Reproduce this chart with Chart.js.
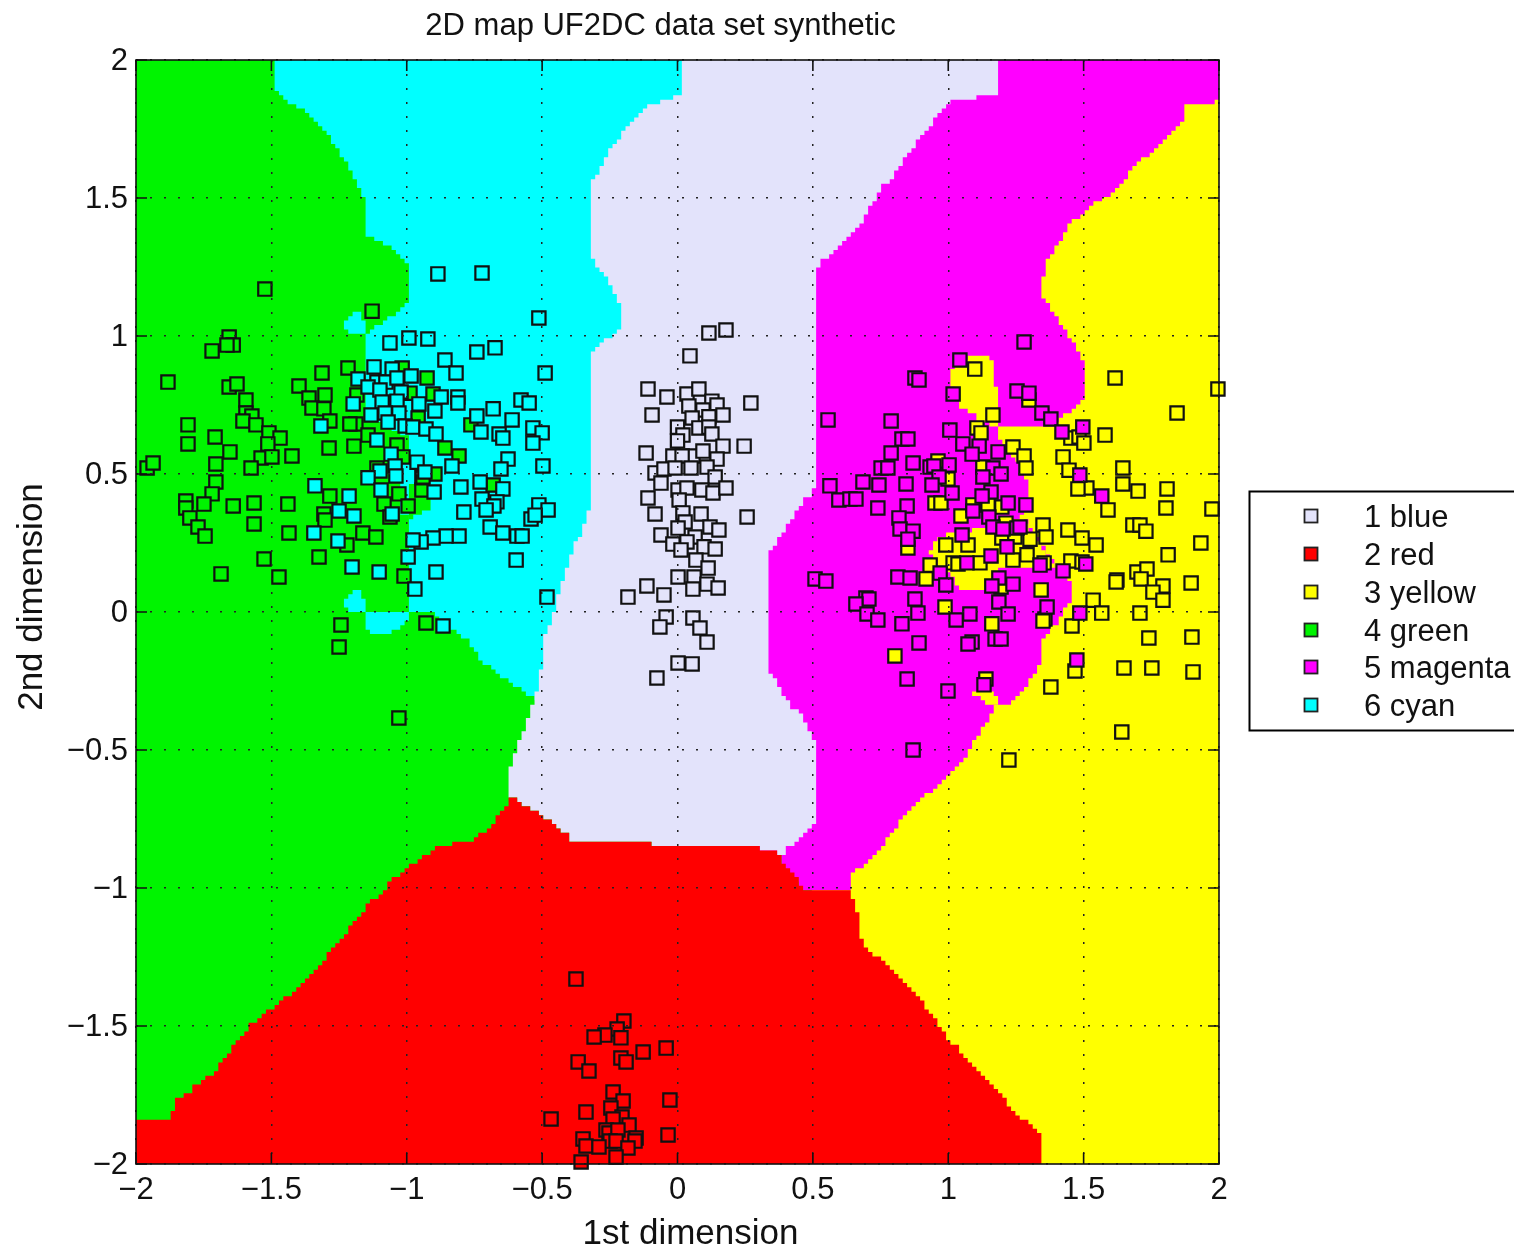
<!DOCTYPE html>
<html>
<head>
<meta charset="utf-8">
<title>2D map UF2DC data set synthetic</title>
<style>html,body{margin:0;padding:0;background:#fff}canvas{display:block}</style>
<script src="https://cdn.jsdelivr.net/npm/chart.js@4/dist/chart.umd.min.js"></script>
</head>
<body>
<canvas id="c" width="1514" height="1248"></canvas>
<script>
const chartTitle = "2D map UF2DC data set synthetic";
const xTitle = "1st dimension";
const yTitle = "2nd dimension";
const tickValues = [-2,-1.5,-1,-0.5,0,0.5,1,1.5,2];
const classNames = ["1 blue","2 red","3 yellow","4 green","5 magenta","6 cyan"];
const classColors = ["#E3E3FB","#FF0000","#FFFF00","#00F400","#FF00FF","#00FFFF"];

const bluePoints = [[0.116,1.011],[0.179,1.022],[0.046,0.928],[-0.109,0.808],[-0.039,0.779],[0.035,0.79],[0.079,0.808],[0.127,0.764],[0.271,0.757],[-0.094,0.714],[0.042,0.746],[0.094,0.732],[0.146,0.75],[0.168,0.714],[0.054,0.703],[0.116,0.707],[0,0.67],[0.079,0.667],[0.116,0.67],[0.02,0.641],[0.127,0.645],[0,0.62],[0.168,0.601],[0.246,0.601],[-0.116,0.576],[-0.017,0.565],[0.057,0.565],[0.094,0.583],[0.146,0.554],[0.017,0.565],[-0.083,0.504],[-0.05,0.518],[-0.009,0.522],[0.05,0.522],[0.109,0.525],[0.139,0.489],[-0.061,0.467],[0.002,0.442],[0.035,0.449],[0.09,0.442],[0.131,0.431],[0.179,0.449],[-0.109,0.413],[0.006,0.406],[0.257,0.344],[-0.083,0.355],[0.02,0.359],[0.087,0.355],[0.028,0.326],[0.002,0.304],[0.12,0.308],[0.153,0.297],[-0.061,0.279],[0.065,0.272],[-0.017,0.246],[0.035,0.254],[0.098,0.236],[0.139,0.228],[0.013,0.225],[0.068,0.188],[0.113,0.159],[0.002,0.127],[0.061,0.127],[0.109,0.101],[0.057,0.083],[0.15,0.087],[-0.113,0.094],[-0.183,0.054],[-0.05,0.062],[-0.042,-0.018],[-0.065,-0.054],[0.057,-0.022],[0.083,-0.058],[0.109,-0.109],[0.002,-0.185],[0.054,-0.188],[-0.076,-0.239]];

const redPoints = [[-0.375,-1.33],[-0.198,-1.482],[-0.223,-1.511],[-0.268,-1.533],[-0.308,-1.54],[-0.209,-1.543],[-0.127,-1.594],[-0.042,-1.58],[-0.209,-1.616],[-0.19,-1.63],[-0.367,-1.63],[-0.327,-1.663],[-0.238,-1.739],[-0.201,-1.772],[-0.028,-1.768],[-0.246,-1.797],[-0.338,-1.812],[-0.467,-1.837],[-0.205,-1.83],[-0.238,-1.837],[-0.179,-1.859],[-0.264,-1.877],[-0.253,-1.888],[-0.22,-1.877],[-0.153,-1.906],[-0.035,-1.895],[-0.349,-1.909],[-0.249,-1.917],[-0.227,-1.917],[-0.157,-1.917],[-0.338,-1.935],[-0.29,-1.938],[-0.183,-1.942],[-0.227,-1.975],[-0.356,-1.993]];

const yellowPoints = [[1.098,0.88],[1.165,0.714],[1.106,0.667],[1.121,0.649],[1.239,0.598],[0.962,0.547],[0.999,0.482],[0.951,0.395],[0.973,0.395],[1.047,0.348],[1.091,0.388],[1.147,0.388],[1.198,0.38],[1.213,0.322],[1.198,0.268],[1.246,0.272],[0.851,0.232],[0.991,0.243],[1.073,0.243],[1.128,0.525],[0.933,0.17],[0.918,0.12],[1.018,0.178],[1.036,0.174],[1.117,0.178],[1.239,0.188],[0.988,0.018],[1.161,-0.043],[0.803,-0.159],[1.139,-0.243],[1.195,0.091],[1.616,0.848],[1.996,0.808],[1.845,0.721],[1.298,0.768],[1.579,0.641],[1.453,0.63],[1.483,0.634],[1.501,0.612],[1.28,0.565],[1.424,0.562],[1.287,0.522],[1.446,0.514],[1.645,0.522],[1.645,0.464],[1.701,0.438],[1.808,0.446],[1.804,0.377],[1.974,0.373],[1.512,0.449],[1.479,0.446],[1.59,0.37],[1.682,0.315],[1.708,0.315],[1.73,0.293],[1.35,0.315],[1.361,0.272],[1.302,0.264],[1.442,0.297],[1.494,0.268],[1.546,0.243],[1.933,0.25],[1.291,0.207],[1.354,0.178],[1.453,0.185],[1.812,0.207],[1.623,0.116],[1.62,0.109],[1.697,0.145],[1.734,0.156],[1.712,0.12],[1.793,0.094],[1.756,0.072],[1.793,0.043],[1.897,0.105],[1.343,0.08],[1.535,0.043],[1.567,-0.004],[1.708,-0.004],[1.457,-0.051],[1.357,-0.025],[1.35,-0.033],[1.741,-0.094],[1.9,-0.091],[1.649,-0.203],[1.752,-0.203],[1.904,-0.217],[1.468,-0.214],[1.379,-0.272],[1.641,-0.435],[1.224,-0.536],[1.494,0.181]];

const greenPoints = [[-1.524,1.17],[-1.128,1.09],[-1.656,0.996],[-1.641,0.967],[-1.664,0.967],[-1.719,0.946],[-1.882,0.833],[-1.656,0.815],[-1.627,0.826],[-1.313,0.866],[-1.217,0.884],[-1.398,0.819],[-1.361,0.775],[-1.302,0.786],[-1.594,0.768],[-1.35,0.739],[-1.306,0.736],[-1.594,0.721],[-1.572,0.71],[-1.605,0.692],[-1.557,0.678],[-1.284,0.692],[-1.808,0.678],[-1.509,0.649],[-1.468,0.63],[-1.708,0.634],[-1.808,0.609],[-1.513,0.609],[-1.653,0.58],[-1.538,0.558],[-1.498,0.562],[-1.424,0.565],[-1.287,0.594],[-1.195,0.601],[-1.184,0.786],[-1.188,0.681],[-1.21,0.681],[-1.705,0.536],[-1.575,0.522],[-1.959,0.522],[-1.937,0.54],[-1.705,0.471],[-1.719,0.428],[-1.816,0.402],[-1.749,0.391],[-1.816,0.377],[-1.641,0.384],[-1.564,0.395],[-1.439,0.391],[-1.801,0.341],[-1.771,0.308],[-1.745,0.275],[-1.564,0.319],[-1.435,0.286],[-1.527,0.192],[-1.686,0.138],[-1.472,0.127],[-1.324,0.199],[-1.284,0.42],[-1.306,0.355],[-1.302,0.333],[-1.162,0.286],[-1.221,0.243],[-1.114,0.272],[-1.01,0.13],[-1.243,-0.047],[-1.25,-0.127],[-0.929,-0.04],[-1.029,-0.384],[-1.029,0.428],[-1.084,0.391],[-0.995,0.384],[-1.062,0.344],[-1.11,0.522],[-0.944,0.442],[-0.944,0.486],[-0.925,0.848],[-1.017,0.884],[-0.988,0.793],[-0.903,0.79],[-1.143,0.641],[-1.036,0.605],[-1.014,0.562],[-0.958,0.703],[-0.859,0.594],[-0.807,0.565],[-0.896,0.5],[-0.94,0.489],[-0.763,0.678],[-0.681,0.46]];

const magentaPoints = [[1.043,0.913],[0.877,0.848],[0.892,0.841],[1.018,0.79],[0.556,0.696],[0.789,0.692],[0.829,0.627],[0.851,0.627],[1.006,0.659],[1.054,0.609],[1.114,0.601],[1.088,0.572],[1.184,0.58],[0.789,0.576],[0.87,0.54],[0.752,0.522],[0.777,0.522],[0.933,0.525],[0.947,0.529],[1.003,0.533],[0.966,0.489],[1.165,0.522],[1.128,0.489],[1.195,0.5],[0.685,0.471],[0.563,0.457],[0.744,0.46],[0.844,0.464],[0.94,0.46],[1.014,0.431],[1.158,0.435],[0.596,0.406],[0.637,0.409],[0.659,0.409],[1.125,0.42],[0.74,0.377],[0.848,0.384],[1.221,0.395],[1.091,0.366],[1.15,0.344],[0.818,0.341],[0.822,0.301],[0.87,0.293],[0.851,0.264],[1.051,0.279],[1.165,0.308],[1.202,0.301],[1.254,0.304],[1.217,0.236],[1.158,0.203],[1.069,0.178],[0.97,0.141],[0.991,0.098],[1.187,0.123],[1.161,0.094],[1.239,0.101],[0.508,0.12],[0.548,0.112],[0.814,0.127],[0.859,0.123],[0.877,0.047],[0.696,0.051],[0.707,0.047],[0.659,0.029],[0.7,-0.007],[0.74,-0.029],[0.888,-0.004],[0.829,-0.043],[1.029,-0.029],[1.08,-0.007],[1.187,0.036],[1.221,-0.007],[0.892,-0.112],[1.088,-0.109],[1.073,-0.116],[1.173,-0.098],[1.195,-0.098],[0.848,-0.243],[0.999,-0.286],[1.132,-0.264],[0.87,-0.5],[1.28,0.978],[1.254,0.801],[1.298,0.793],[1.346,0.721],[1.379,0.699],[1.42,0.652],[1.497,0.67],[1.486,0.496],[1.567,0.42],[1.287,0.388],[1.265,0.308],[1.339,0.17],[1.424,0.149],[1.508,0.174],[1.365,0.018],[1.486,-0.004],[1.475,-0.174]];

const cyanPoints = [[-0.885,1.225],[-0.722,1.228],[-0.512,1.065],[-1.062,0.975],[-0.992,0.993],[-0.922,0.989],[-0.859,0.913],[-0.741,0.942],[-0.674,0.957],[-0.818,0.866],[-0.489,0.866],[-1.121,0.888],[-1.054,0.88],[-1.18,0.844],[-0.984,0.855],[-1.11,0.833],[-1.077,0.833],[-1.036,0.848],[-1.143,0.815],[-1.099,0.804],[-1.021,0.797],[-0.811,0.779],[-0.811,0.757],[-0.873,0.779],[-1.198,0.754],[-1.091,0.761],[-1.036,0.764],[-0.955,0.754],[-0.896,0.728],[-1.132,0.714],[-1.029,0.721],[-1.08,0.721],[-0.578,0.768],[-0.548,0.757],[-0.681,0.736],[-0.741,0.71],[-0.611,0.696],[-1.069,0.688],[-1.006,0.674],[-0.977,0.67],[-0.929,0.663],[-0.726,0.652],[-0.892,0.645],[-0.659,0.645],[-0.645,0.63],[-0.534,0.667],[-0.5,0.649],[-0.534,0.612],[-1.11,0.623],[-1.058,0.572],[-0.626,0.554],[-0.652,0.518],[-0.497,0.529],[-0.962,0.543],[-0.833,0.529],[-1.043,0.529],[-0.933,0.507],[-1.099,0.511],[-1.04,0.493],[-1.143,0.486],[-0.729,0.471],[-0.8,0.453],[-0.645,0.446],[-1.095,0.442],[-0.899,0.435],[-0.722,0.409],[-0.667,0.399],[-0.678,0.384],[-0.707,0.37],[-0.789,0.362],[-0.512,0.388],[-0.478,0.37],[-0.541,0.337],[-0.526,0.351],[-1.054,0.355],[-1.213,0.42],[-1.25,0.366],[-1.195,0.348],[-0.692,0.308],[-0.645,0.286],[-0.593,0.275],[-0.574,0.275],[-0.807,0.275],[-0.855,0.275],[-0.903,0.268],[-0.947,0.254],[-0.977,0.261],[-1.254,0.257],[-0.995,0.199],[-0.596,0.188],[-1.202,0.163],[-1.102,0.145],[-0.892,0.145],[-0.97,0.083],[-0.482,0.054],[-0.866,-0.051],[-1.317,0.674],[-1.339,0.457],[-1.343,0.286]];

const allPoints = [bluePoints,redPoints,yellowPoints,greenPoints,magentaPoints,cyanPoints];
const drawOrder = [3,3,2,2,1,1];

// Decision regions: boundary vertices read in axis units
const greenRegion = [[-2,-2],[2,-2],[2,2],[-2,2]];
const cyanRegion = [[-1.49,2],[-1.49,1.884],[-1.394,1.819],[-1.283,1.71],[-1.21,1.601],[-1.154,1.493],[-1.154,1.366],[-1.062,1.312],[-0.999,1.25],[-0.992,1.178],[-0.995,1.12],[-1.036,1.076],[-1.099,1.033],[-1.154,1.004],[-1.154,0.732],[-1.125,0.696],[-1.043,0.652],[-0.995,0.623],[-0.995,0.569],[-1.032,0.543],[-1.032,0.37],[-0.988,0.333],[-0.988,0],[-0.914,0],[-0.859,-0.047],[-0.785,-0.101],[-0.73,-0.174],[-0.637,-0.246],[-0.526,-0.319],[0.083,-0.319],[0.083,2]];
const yellowRegion = [[0.5,-2],[2,-2],[2,1.9],[0.5,1.9]];
const magentaRegion = [[1.176,2],[2,2],[2,1.848],[1.882,1.837],[1.874,1.775],[1.745,1.656],[1.597,1.511],[1.468,1.42],[1.357,1.257],[1.346,1.13],[1.424,1.022],[1.494,0.913],[1.509,0.859],[1.509,0.804],[1.494,0.761],[1.424,0.703],[1.387,0.67],[1.18,0.67],[1.18,0.623],[1.239,0.562],[1.291,0.467],[1.291,0.38],[1.265,0.344],[1.339,0.261],[1.394,0.167],[1.442,0.116],[1.461,0.072],[1.461,0.043],[1.424,0],[1.394,-0.054],[1.35,-0.112],[1.346,-0.185],[1.328,-0.228],[1.291,-0.272],[1.228,-0.33],[1.18,-0.344],[1.128,-0.428],[1.08,-0.5],[1.043,-0.565],[0.933,-0.663],[0.822,-0.772],[0.748,-0.862],[0.645,-0.964],[0.637,-1.007],[0.471,-1.007],[0.379,-0.917],[0.379,-0.88],[0.083,-0.86],[0.083,1.87]];
const lavenderRegion = [[0.009,2],[0.009,1.873],[-0.102,1.837],[-0.194,1.746],[-0.286,1.601],[-0.323,1.547],[-0.323,1.275],[-0.249,1.185],[-0.205,1.094],[-0.205,1.022],[-0.286,0.967],[-0.323,0.913],[-0.323,0.37],[-0.397,0.188],[-0.489,-0.101],[-0.489,-0.156],[-0.526,-0.319],[-0.619,-0.572],[-0.619,-0.67],[-0.508,-0.736],[-0.379,-0.837],[0.249,-0.844],[0.379,-0.88],[0.508,-0.761],[0.508,-0.457],[0.46,-0.373],[0.397,-0.301],[0.342,-0.21],[0.342,0.225],[0.46,0.395],[0.508,0.46],[0.508,1.203],[0.526,1.275],[0.674,1.402],[0.748,1.529],[0.896,1.728],[1.006,1.855],[1.176,1.873],[1.176,2]];
const yellowBlob = [[1.073,0.931],[1.143,0.931],[1.173,0.888],[1.18,0.67],[1.125,0.696],[1.054,0.739],[1.014,0.83],[1.014,0.884]];
const yellowPocket = [[1.265,0.344],[1.191,0.322],[1.099,0.297],[0.988,0.279],[0.925,0.207],[0.995,0.141],[1.043,0.087],[1.165,0.087],[1.18,0.159],[1.394,0.167],[1.339,0.261]];
const yellowNotch = [[1.091,-0.29],[1.173,-0.293],[1.18,-0.337],[1.143,-0.337],[1.125,-0.312]];
const greenWedge = [[-0.988,0.467],[-0.951,0.467],[-0.907,0.435],[-0.907,0.38],[-0.944,0.351],[-0.981,0.333],[-0.988,0.333]];
const cyanDiamondA = [[-1.239,1.047],[-1.202,1.083],[-1.18,1.083],[-1.154,1.051],[-1.154,1.004],[-1.21,1.004]];
const cyanDiamondB = [[-1.239,0.043],[-1.202,0.08],[-1.18,0.08],[-1.154,0.043],[-1.154,0],[-1.21,0]];
const cyanPatch = [[-1.154,0],[-0.995,0],[-0.995,-0.036],[-1.043,-0.072],[-1.062,-0.087],[-1.117,-0.087],[-1.143,-0.058],[-1.154,-0.036]];
const redRegion = [[-2,-2],[-2,-1.848],[-1.874,-1.841],[-1.856,-1.768],[-1.727,-1.678],[-1.579,-1.496],[-1.394,-1.351],[-1.21,-1.134],[-1.08,-0.989],[-0.988,-0.917],[-0.877,-0.844],[-0.766,-0.833],[-0.674,-0.754],[-0.619,-0.67],[-0.508,-0.736],[-0.379,-0.837],[0.249,-0.844],[0.379,-0.88],[0.379,-0.917],[0.471,-1.007],[0.637,-1.007],[0.674,-1.116],[0.681,-1.207],[0.766,-1.279],[0.84,-1.351],[0.933,-1.46],[1.043,-1.605],[1.154,-1.714],[1.265,-1.833],[1.346,-1.895],[1.346,-2]];

const regionLayers = [
  [greenRegion,3],[cyanRegion,5],[yellowRegion,2],[magentaRegion,4],[lavenderRegion,0],
  [yellowBlob,2],[yellowPocket,2],[yellowNotch,2],[greenWedge,3],
  [cyanDiamondA,5],[cyanDiamondB,5],[cyanPatch,5],[redRegion,1]
];
const GRID_STEP = 0.016;
const snap = v => Math.round(v / GRID_STEP) * GRID_STEP;
const fmt = v => String(v).replace('-', '\u2212');
const FONT = '"Liberation Sans", Arial, sans-serif';

const regionsPlugin = {
  id: 'regions',
  afterLayout(chart) {
    chart.titleBlock.left -= 34;
    chart.scales.x.left += 26;
    chart.scales.y.bottom -= 30;
  },
  beforeDatasetsDraw(chart) {
    const {ctx, chartArea: a, scales: {x, y}} = chart;
    ctx.save();
    ctx.beginPath(); ctx.rect(a.left, a.top, a.width, a.height); ctx.clip();
    regionLayers.forEach(([poly, ci]) => {
      ctx.beginPath();
      let cy = snap(poly[0][1]);
      ctx.moveTo(x.getPixelForValue(snap(poly[0][0])), y.getPixelForValue(cy));
      for (let k = 1; k <= poly.length; k++) {
        const p = poly[k - 1], q = poly[k % poly.length];
        const n = Math.max(1, Math.ceil(Math.max(Math.abs(q[0]-p[0]), Math.abs(q[1]-p[1])) / GRID_STEP));
        for (let i = 1; i <= n; i++) {
          const nx = snap(p[0] + (q[0]-p[0]) * i / n), ny = snap(p[1] + (q[1]-p[1]) * i / n);
          ctx.lineTo(x.getPixelForValue(nx), y.getPixelForValue(cy));
          ctx.lineTo(x.getPixelForValue(nx), y.getPixelForValue(ny));
          cy = ny;
        }
      }
      ctx.closePath();
      ctx.fillStyle = classColors[ci];
      ctx.fill();
    });
    ctx.restore();
  },
  afterDraw(chart) {
    const {ctx, chartArea: a, scales: {x, y}} = chart;
    ctx.save();
    // inward ticks and frame
    ctx.strokeStyle = '#111'; ctx.lineWidth = 1.6;
    const L = 11;
    ctx.beginPath();
    tickValues.forEach(v => {
      const px = x.getPixelForValue(v), py = y.getPixelForValue(v);
      ctx.moveTo(px, a.bottom); ctx.lineTo(px, a.bottom - L);
      ctx.moveTo(px, a.top); ctx.lineTo(px, a.top + L);
      ctx.moveTo(a.left, py); ctx.lineTo(a.left + L, py);
      ctx.moveTo(a.right, py); ctx.lineTo(a.right - L, py);
    });
    ctx.stroke();
    ctx.strokeRect(a.left, a.top, a.width, a.height);
    // legend box
    ctx.fillStyle = '#fff'; ctx.strokeStyle = '#000'; ctx.lineWidth = 2;
    ctx.beginPath();
    ctx.rect(1249.5, 491.5, 270, 239);
    ctx.fill(); ctx.stroke();
    ctx.font = '31px ' + FONT; ctx.textAlign = 'left'; ctx.textBaseline = 'middle';
    const rowY = [516, 554, 592, 630, 667, 705];
    classNames.forEach((name, i) => {
      ctx.fillStyle = classColors[i]; ctx.strokeStyle = '#222'; ctx.lineWidth = 1.8;
      ctx.fillRect(1304.5, rowY[i] - 6.5, 13, 13);
      ctx.strokeRect(1304.5, rowY[i] - 6.5, 13, 13);
      ctx.fillStyle = '#111';
      ctx.fillText(name, 1364, rowY[i] + 2);
    });
    ctx.restore();
  }
};

new Chart(document.getElementById('c'), {
  type: 'scatter',
  data: {
    datasets: classNames.map((name, i) => ({
      label: name,
      data: allPoints[i].map(p => ({x: p[0], y: p[1]})),
      order: drawOrder[i],
      clip: false,
      pointStyle: 'rect',
      pointRadius: 9.4,
      pointHoverRadius: 9.4,
      pointBorderWidth: 2.2,
      pointBorderColor: '#111',
      pointBackgroundColor: classColors[i]
    }))
  },
  options: {
    responsive: false,
    animation: false,
    events: [],
    layout: {padding: {left: 0, right: 295, top: 0, bottom: 0}},
    plugins: {
      legend: {display: false},
      tooltip: {enabled: false},
      title: {
        display: true, text: chartTitle, fullSize: false,
        color: '#111',
        font: {family: FONT, size: 31, weight: 'normal', lineHeight: 1.2},
        padding: {top: 8, bottom: 14.8}
      }
    },
    scales: {
      x: {
        type: 'linear', min: -2, max: 2,
        afterFit(s) { s.height = 84; },
        afterBuildTicks(s) { s.ticks = tickValues.map(v => ({value: v})); },
        grid: {color: '#222', lineWidth: 1.5, drawTicks: false, z: 1},
        border: {display: false, dash: [2, 12]},
        ticks: {color: '#111', font: {family: FONT, size: 31}, padding: 8, maxRotation: 0, autoSkip: false, callback: v => fmt(v)},
        title: {display: true, text: xTitle, color: '#111', font: {family: FONT, size: 35, lineHeight: 0.8}, padding: {top: 0, bottom: 0}}
      },
      y: {
        type: 'linear', min: -2, max: 2,
        afterFit(s) { s.width = 136; },
        afterBuildTicks(s) { s.ticks = tickValues.map(v => ({value: v})); },
        grid: {color: '#222', lineWidth: 1.5, drawTicks: false, z: 1},
        border: {display: false, dash: [2, 12]},
        ticks: {color: '#111', font: {family: FONT, size: 31}, padding: 8, labelOffset: 1, autoSkip: false, callback: v => fmt(v)},
        title: {display: true, text: yTitle, color: '#111', font: {family: FONT, size: 35, lineHeight: 0.9}, padding: {top: 17, bottom: 0}}
      }
    }
  },
  plugins: [regionsPlugin]
});
</script>
</body>
</html>
